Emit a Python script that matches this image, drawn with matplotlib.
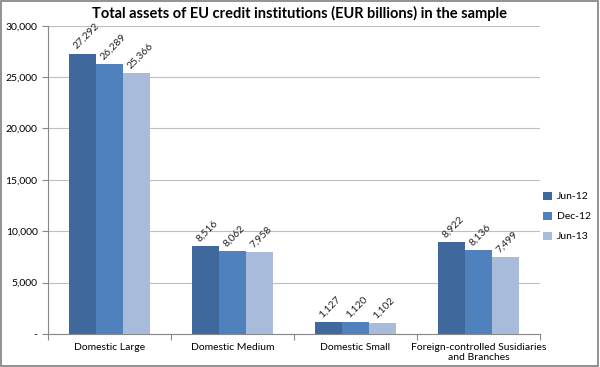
import numpy as np
from matplotlib import pyplot as plt
from matplotlib.ticker import FuncFormatter
from matplotlib.transforms import blended_transform_factory

categories = ['Domestic Large', 'Domestic Medium', 'Domestic Small',
              'Foreign-controlled Susidiaries\nand Branches']
series_names = ['Jun-12', 'Dec-12', 'Jun-13']
jun12 = [27292, 8516, 1127, 8922]
dec12 = [26289, 8062, 1120, 8136]
jun13 = [25366, 7958, 1102, 7499]
colors = ['#3F699C', '#4F81BD', '#A9BBDA']

plt.rcParams['font.family'] = ['Lato', 'DejaVu Sans']

fig = plt.figure(figsize=(6, 3.67), dpi=100)
ax = fig.add_axes([0.08, 0.09, 0.82, 0.84])

x = np.arange(len(categories))
width = 0.22
for i, (vals, name, c) in enumerate(zip([jun12, dec12, jun13], series_names, colors)):
    pos = x + (i - 1) * width
    ax.bar(pos, vals, width=width, color=c, label=name, zorder=3)
    # rotated value labels above each bar
    for px, v in zip(pos, vals):
        ax.text(px - 0.04, v + 250, f'{v:,}', rotation=45, ha='left', va='bottom',
                fontsize=7.5, color='#222222', rotation_mode='anchor')

ax.set_xlim(-0.5, len(categories) - 0.5)
ax.set_ylim(0, 30000)
ax.set_yticks(np.arange(0, 30001, 5000))
ax.yaxis.set_major_formatter(FuncFormatter(lambda v, p: '-' if v == 0 else f'{int(v):,}'))

# category labels drawn as text so the two-line one is centred
ax.set_xticks(np.arange(-0.5, len(categories)))
ax.set_xticklabels([])
ax.tick_params(axis='x', length=4, color='#888888')
trans = blended_transform_factory(ax.transData, ax.transAxes)
for xi, cat in zip(x, categories):
    ax.text(xi, -0.028, cat, transform=trans, ha='center', va='top',
            multialignment='center', fontsize=7.5, linespacing=1.15)

ax.tick_params(axis='y', labelsize=7.5, length=4, color='#888888')
ax.grid(axis='y', color='#BFBFBF', linewidth=0.8, zorder=0)
for s in ['top', 'right']:
    ax.spines[s].set_visible(False)
for s in ['left', 'bottom']:
    ax.spines[s].set_color('#888888')

fig.text(0.5, 0.962, 'Total assets of EU credit institutions (EUR billions) in the sample',
         fontsize=10.5, fontweight='bold', ha='center', va='center')
fig.legend(loc='center left', bbox_to_anchor=(0.89, 0.41), frameon=False,
           fontsize=7.5, handlelength=0.8, handleheight=0.8, labelspacing=1.0,
           handletextpad=0.5)

fig.patches.append(plt.Rectangle((0.002, 0.003), 0.995, 0.994, transform=fig.transFigure,
                                 fill=False, edgecolor='#7F7F7F', linewidth=1.2))
fig.savefig('out.png', dpi=100)
